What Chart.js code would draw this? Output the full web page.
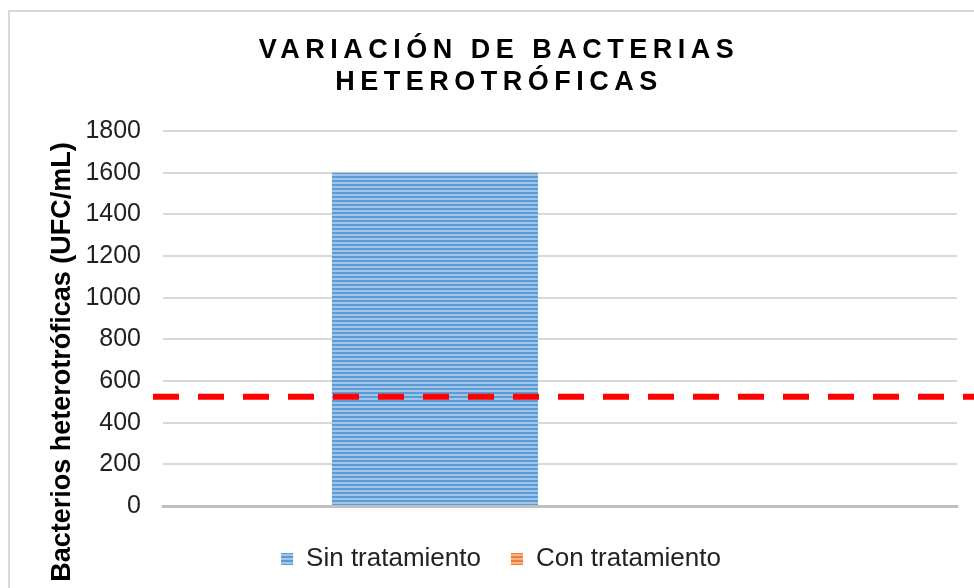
<!DOCTYPE html>
<html>
<head>
<meta charset="utf-8">
<script src="https://cdn.jsdelivr.net/npm/chart.js@4"></script>
<style>
  html, body { margin: 0; padding: 0; background: #fff; overflow: hidden; }
  #wrap { width: 974px; height: 588px; }
</style>
</head>
<body>
<div id="wrap"><canvas id="myChart" width="974" height="588"></canvas></div>
<script>
// data
var categories  = [''];
var series_names = ['Sin tratamiento', 'Con tratamiento'];
var sin_values  = [1600];
var con_values  = [0];
var limit_value = 525;   // red dashed reference line
var y_ticks     = [0, 200, 400, 600, 800, 1000, 1200, 1400, 1600, 1800];
var title_lines = ['VARIACIÓN DE BACTERIAS', 'HETEROTRÓFICAS'];
var y_title     = 'Bacterios heterotróficas (UFC/mL)';

var FONT = '"Liberation Sans", Arial, sans-serif';

// horizontal striped fill like the original
function stripes(dark, light){
  var c = document.createElement('canvas');
  c.width = 8; c.height = 4;
  var g = c.getContext('2d');
  g.fillStyle = dark;  g.fillRect(0, 0, 8, 2);
  g.fillStyle = light; g.fillRect(0, 2, 8, 2);
  return g.createPattern(c, 'repeat');
}

var extras = {
  id: 'extras',
  beforeDraw: function(chart){
    var ctx = chart.ctx;
    ctx.save();
    ctx.strokeStyle = '#d9d9d9';
    ctx.lineWidth = 2;
    ctx.strokeRect(9, 11, 1100, 1100);
    ctx.restore();
  },
  afterDatasetsDraw: function(chart){
    var ctx = chart.ctx;
    var y = chart.scales.y.getPixelForValue(limit_value);
    ctx.save();
    ctx.strokeStyle = '#ff0000';
    ctx.lineWidth = 6;
    ctx.setLineDash([26, 19]);
    ctx.beginPath();
    ctx.moveTo(chart.chartArea.left - 10, y);
    ctx.lineTo(chart.width + 20, y);
    ctx.stroke();
    ctx.restore();
  },
  afterDraw: function(chart){
    var ctx = chart.ctx;
    ctx.save();
    // title with letter spacing
    ctx.fillStyle = '#000';
    ctx.font = 'bold 27px ' + FONT;
    ctx.letterSpacing = '5.5px';
    ctx.textAlign = 'center';
    ctx.textBaseline = 'middle';
    ctx.fillText(title_lines[0], 499, 51);
    ctx.fillText(title_lines[1], 499, 83);
    ctx.letterSpacing = '0px';
    // y axis title
    ctx.translate(63, 362);
    ctx.rotate(-Math.PI / 2);
    ctx.font = 'bold 27px ' + FONT;
    ctx.fillText(y_title, 0, 0);
    ctx.restore();
  }
};

var ctx = document.getElementById('myChart');
window.chart = new Chart(ctx, {
  type: 'bar',
  data: {
    labels: categories,
    datasets: [{
      label: series_names[0],
      data: sin_values,
      backgroundColor: stripes('#5b9bd5', '#a3c4e9'),
      borderWidth: 0
    }, {
      label: series_names[1],
      data: con_values,
      backgroundColor: stripes('#ed7d31', '#f5b48a'),
      borderWidth: 0
    }]
  },
  options: {
    responsive: false,
    animation: false,
    categoryPercentage: 0.63,
    barPercentage: 0.824,
    layout: { padding: { left: 45, right: 17, top: 131, bottom: 6 } },
    plugins: {
      title: { display: false },
      tooltip: { enabled: false },
      legend: {
        position: 'bottom',
        labels: {
          boxWidth: 12,
          boxHeight: 12,
          padding: 30,
          color: '#222',
          font: { size: 26, family: FONT }
        }
      }
    },
    scales: {
      x: {
        ticks: { display: false },
        grid: { display: false },
        border: { color: '#bfbfbf', width: 3 },
        afterFit: function(s){ s.height = 10; }
      },
      y: {
        min: 0,
        max: 1800,
        afterBuildTicks: function(s){
          s.ticks = y_ticks.map(function(v){ return { value: v }; });
        },
        afterFit: function(s){ s.width = 118; },
        ticks: {
          padding: 22,
          color: '#222',
          font: { size: 25, family: FONT },
          callback: function(v){ return String(v); }
        },
        grid: { color: '#d9d9d9', lineWidth: 2, drawTicks: false },
        border: { display: false }
      }
    }
  },
  plugins: [extras]
});
</script>
</body>
</html>
